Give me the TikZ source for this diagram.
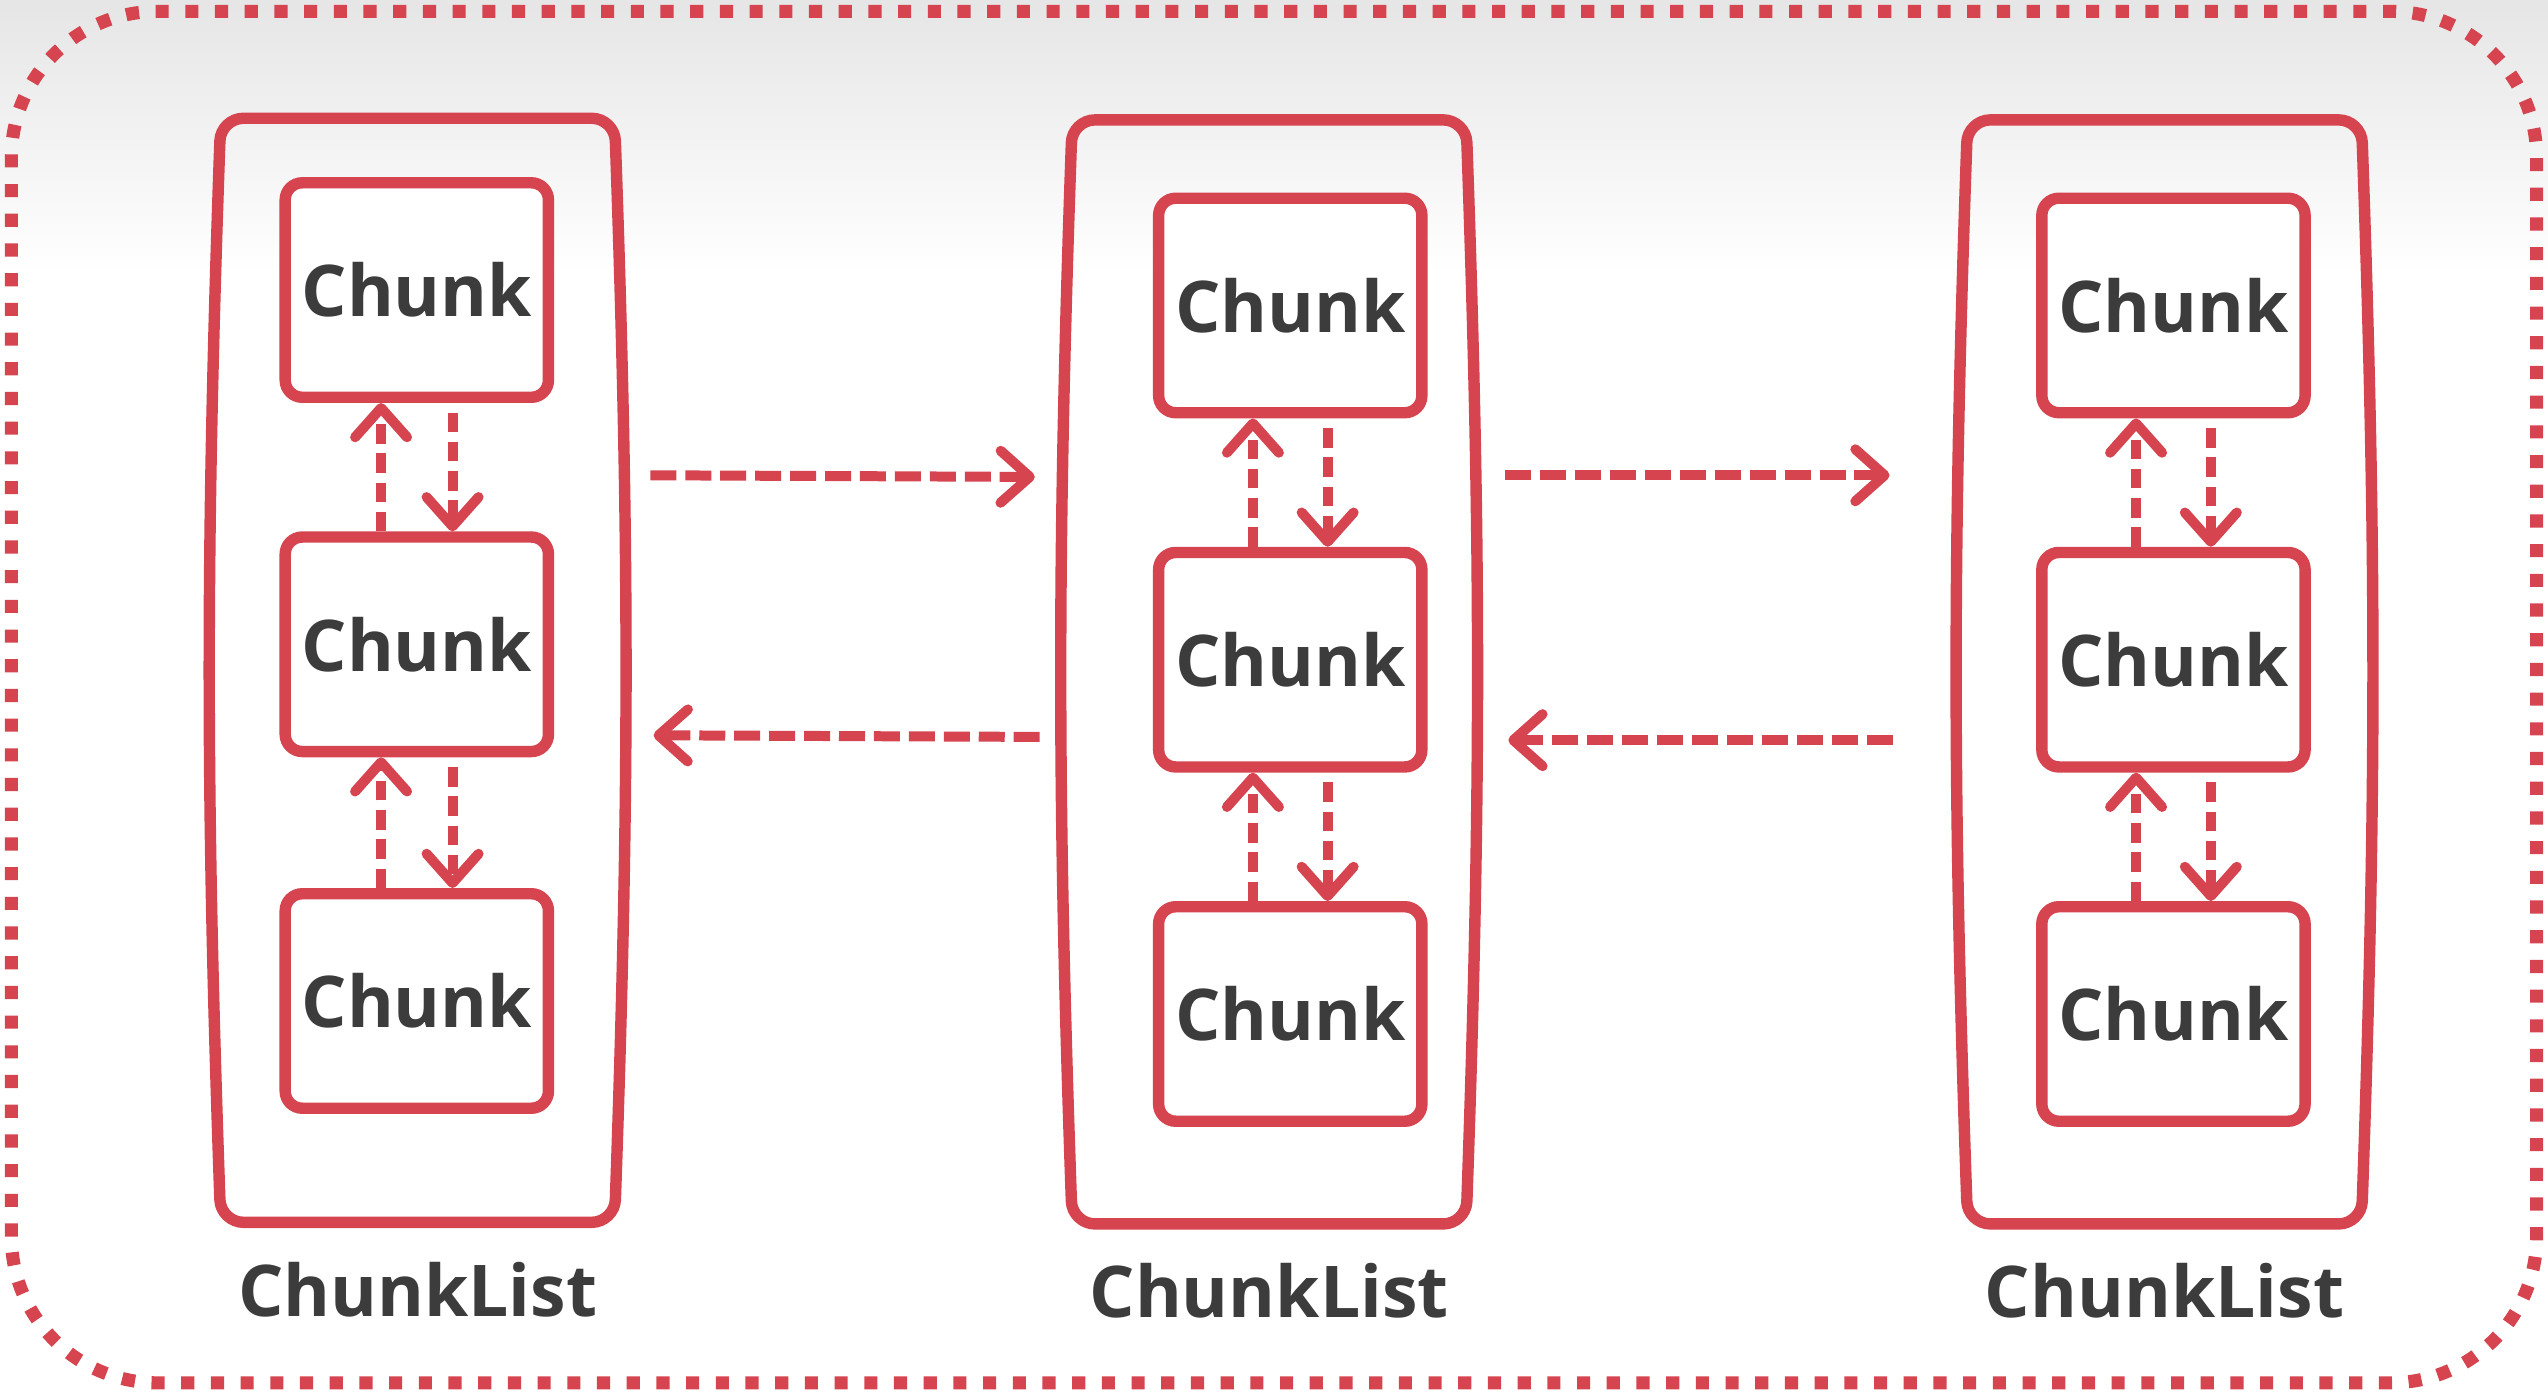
\documentclass[tikz,border=0pt]{standalone}
\usepackage{fontspec}
\setmainfont{Open Sans}
\usetikzlibrary{arrows.meta,positioning}
\definecolor{chunkred}{RGB}{214,68,80}
\definecolor{labelgray}{RGB}{60,60,60}

\begin{document}
\begin{tikzpicture}[
  chunk/.style={draw=chunkred,line width=2pt,rounded corners=3pt,fill=white,
    minimum width=1.62cm,minimum height=1.32cm,inner sep=0pt,
    font=\fontsize{12.5}{15}\selectfont\bfseries,text=labelgray},
  holder/.style={minimum width=2.41cm,minimum height=6.78cm,inner sep=0pt},
  listline/.style={draw=chunkred,line width=2pt,rounded corners=4pt},
  listname/.style={font=\fontsize{12.5}{15}\selectfont\bfseries,text=labelgray},
  link/.style={draw=chunkred,line width=1.75pt,dash pattern=on 0.16cm off 0.055cm,
    -{Straight Barb[length=0.18cm,width=0.32cm,round]}},
  updown/.style={link,dash pattern=on 0.12cm off 0.06cm},
]
  %background
  \fill[white] (0,0) rectangle (15.68,8.58);
  \shade[top color=black!10,bottom color=white] (0,8.58) rectangle (15.68,6.9);
  \draw[chunkred,line width=2.3pt,dash pattern=on 2.3pt off 2.9pt,rounded corners=0.9cm]
    (0.07,0.07) rectangle (15.61,8.51);

  %chunk lists
  \node[holder] (l1) at (2.57,4.455) {};
  \node[holder] (l2) at (7.81,4.445) {};
  \node[holder] (l3) at (13.32,4.445) {};
  \draw[listline] (l1.north) -- (l1.north east) to[bend left=2] (l1.south east)
    -- (l1.south west) to[bend left=2] (l1.north west) -- cycle;
  \draw[listline] (l2.north) -- (l2.north east) to[bend left=2] (l2.south east)
    -- (l2.south west) to[bend left=2] (l2.north west) -- cycle;
  \draw[listline] (l3.north) -- (l3.north east) to[bend left=2] (l3.south east)
    -- (l3.south west) to[bend left=2] (l3.north west) -- cycle;
  \node[listname,below=0.12cm of l1] (n1) {ChunkList};
  \node[listname,below=0.12cm of l2] (n2) {ChunkList};
  \node[listname,below=0.12cm of l3] (n3) {ChunkList};

  %chunks
  \node[chunk] (c11) at (2.565,6.795) {Chunk};
  \node[chunk] (c12) at (2.565,4.615) {Chunk};
  \node[chunk] (c13) at (2.565,2.42) {Chunk};
  \node[chunk] (c21) at (7.94,6.70) {Chunk};
  \node[chunk] (c22) at (7.94,4.52) {Chunk};
  \node[chunk] (c23) at (7.94,2.34) {Chunk};
  \node[chunk] (c31) at (13.375,6.70) {Chunk};
  \node[chunk] (c32) at (13.375,4.52) {Chunk};
  \node[chunk] (c33) at (13.375,2.34) {Chunk};

  %links inside a list
  \draw[updown] ([xshift=-0.22cm]c12.north) -- ([xshift=-0.22cm]c11.south);
  \draw[updown] ([xshift=0.22cm,yshift=-0.06cm]c11.south) -- ([xshift=0.22cm]c12.north);
  \draw[updown] ([xshift=-0.22cm]c13.north) -- ([xshift=-0.22cm]c12.south);
  \draw[updown] ([xshift=0.22cm,yshift=-0.06cm]c12.south) -- ([xshift=0.22cm]c13.north);
  \draw[updown] ([xshift=-0.23cm]c22.north) -- ([xshift=-0.23cm]c21.south);
  \draw[updown] ([xshift=0.23cm,yshift=-0.06cm]c21.south) -- ([xshift=0.23cm]c22.north);
  \draw[updown] ([xshift=-0.23cm]c23.north) -- ([xshift=-0.23cm]c22.south);
  \draw[updown] ([xshift=0.23cm,yshift=-0.06cm]c22.south) -- ([xshift=0.23cm]c23.north);
  \draw[updown] ([xshift=-0.23cm]c32.north) -- ([xshift=-0.23cm]c31.south);
  \draw[updown] ([xshift=0.23cm,yshift=-0.06cm]c31.south) -- ([xshift=0.23cm]c32.north);
  \draw[updown] ([xshift=-0.23cm]c33.north) -- ([xshift=-0.23cm]c32.south);
  \draw[updown] ([xshift=0.23cm,yshift=-0.06cm]c32.south) -- ([xshift=0.23cm]c33.north);

  %links between lists
  \draw[link] ([shift={(0.22,1.2)}]l1.east) -- ([shift={(-0.23,1.2)}]l2.west);
  \draw[link] ([shift={(-0.20,-0.4)}]l2.west) -- ([shift={(0.24,-0.4)}]l1.east);
  \draw[link] ([shift={(0.24,1.21)}]l2.east) -- ([shift={(-0.48,1.21)}]l3.west);
  \draw[link] ([shift={(-0.46,-0.42)}]l3.west) -- ([shift={(0.26,-0.42)}]l2.east);
\end{tikzpicture}
\end{document}
